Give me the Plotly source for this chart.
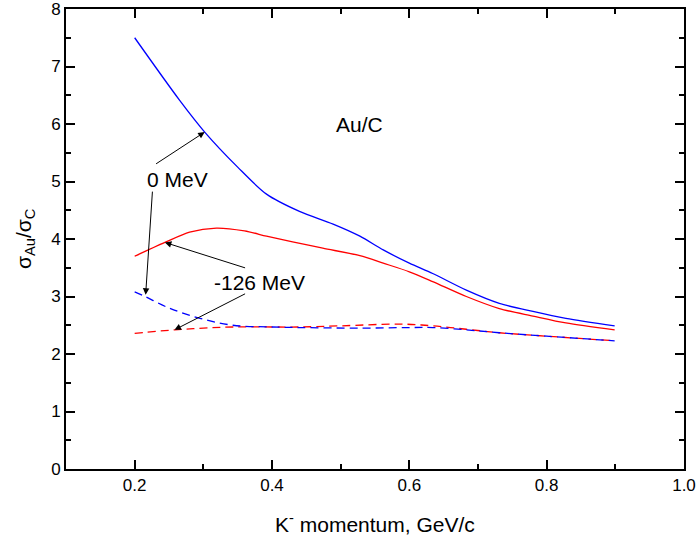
import plotly.graph_objects as go

# Blue solid (0 MeV, full)
x_blue = [0.20, 0.265, 0.302, 0.35, 0.392, 0.44, 0.489, 0.528, 0.562, 0.60, 0.634, 0.683, 0.731, 0.780, 0.828, 0.899]
y_blue = [7.50, 6.42, 5.86, 5.25, 4.78, 4.48, 4.26, 4.05, 3.81, 3.58, 3.40, 3.11, 2.88, 2.74, 2.62, 2.49]

# Red solid
x_red = [0.20, 0.244, 0.28, 0.319, 0.36, 0.392, 0.43, 0.474, 0.528, 0.562, 0.60, 0.634, 0.683, 0.731, 0.780, 0.828, 0.899]
y_red = [3.70, 3.94, 4.12, 4.19, 4.14, 4.05, 3.95, 3.84, 3.71, 3.58, 3.43, 3.26, 3.00, 2.79, 2.66, 2.54, 2.42]

# Blue dashed
x_blue_d = [0.20, 0.215, 0.25, 0.295, 0.343, 0.40, 0.44, 0.528, 0.60, 0.634, 0.683, 0.731, 0.80, 0.899]
y_blue_d = [3.08, 3.00, 2.80, 2.62, 2.50, 2.47, 2.46, 2.45, 2.46, 2.46, 2.42, 2.37, 2.31, 2.23]

# Red dashed
x_red_d = [0.20, 0.258, 0.30, 0.343, 0.40, 0.44, 0.50, 0.586, 0.634, 0.683, 0.731, 0.80, 0.899]
y_red_d = [2.36, 2.42, 2.45, 2.47, 2.47, 2.47, 2.49, 2.52, 2.49, 2.43, 2.37, 2.31, 2.23]

# tick labels
x_ticks = [0.2, 0.4, 0.6, 0.8, 1.0]
x_tick_labels = ["0.2", "0.4", "0.6", "0.8", "1.0"]

FONT = "Liberation Sans, Arial, sans-serif"
TXT = dict(size=21, color="black", family=FONT)

fig = go.Figure()
fig.add_trace(go.Scatter(x=x_blue, y=y_blue, mode="lines", line=dict(color="#0000FF", width=1.3, shape="spline", smoothing=0.8)))
fig.add_trace(go.Scatter(x=x_red, y=y_red, mode="lines", line=dict(color="#FF0000", width=1.3, shape="spline", smoothing=0.8)))
fig.add_trace(go.Scatter(x=x_red_d, y=y_red_d, mode="lines", line=dict(color="#FF0000", width=1.3, dash="8px,5px", shape="spline")))
fig.add_trace(go.Scatter(x=x_blue_d, y=y_blue_d, mode="lines", line=dict(color="#0000FF", width=1.3, dash="8px,5px", shape="spline")))

ann = []
ann.append(dict(x=0.528, y=6.0, text="Au/C", showarrow=False, font=TXT))
ann.append(dict(x=0.263, y=5.03, text="0 MeV", showarrow=False, font=TXT))
ann.append(dict(x=0.382, y=3.25, text="-126 MeV", showarrow=False, font=TXT))

arrows = [
    ((0.229, 5.29), (0.302, 5.86)),
    ((0.226, 4.85), (0.216, 3.03)),
    ((0.363, 3.49), (0.244, 3.94)),
    ((0.363, 3.06), (0.258, 2.42)),
]
for (sx, sy), (tx, ty) in arrows:
    ann.append(dict(x=tx, y=ty, ax=sx, ay=sy, xref="x", yref="y", axref="x", ayref="y",
                    text="", showarrow=True, arrowhead=2, arrowsize=1.3, arrowwidth=1, arrowcolor="black"))

# axis titles as annotations for precise placement
ann.append(dict(xref="paper", yref="paper", x=0.5, y=0, yanchor="middle", yshift=-54,
                text="K<sup>-</sup> momentum, GeV/c", showarrow=False, font=TXT))
ann.append(dict(xref="paper", yref="paper", x=0, y=0.5, xanchor="center", xshift=-41,
                text="σ<sub>Au</sub>/σ<sub>C</sub>", textangle=-90, showarrow=False, font=TXT))

fig.update_layout(template="simple_white")

fig.update_xaxes(
    range=[0.1, 1.0], tickmode="array", tickvals=x_ticks, ticktext=x_tick_labels,
    showline=True, linecolor="black", linewidth=2, mirror="allticks",
    ticks="inside", ticklen=9, tickwidth=2, tickcolor="black", layer="above traces",
    minor=dict(ticks="inside", dtick=0.1, tick0=0.1, ticklen=5, tickwidth=2, tickcolor="black", showgrid=False),
    showgrid=False, zeroline=False, automargin=False, ticklabeloverflow="allow",
    tickfont=dict(size=17, color="black", family=FONT),
)
fig.update_yaxes(
    range=[0, 8], tickmode="linear", tick0=0, dtick=1,
    showline=True, linecolor="black", linewidth=2, mirror="allticks",
    ticks="inside", ticklen=9, tickwidth=2, tickcolor="black", layer="above traces",
    minor=dict(ticks="inside", dtick=0.5, tick0=0, ticklen=5, tickwidth=2, tickcolor="black", showgrid=False),
    showgrid=False, zeroline=False, automargin=False, ticklabeloverflow="allow",
    tickfont=dict(size=17, color="black", family=FONT),
)

fig.update_layout(
    width=696, height=539,
    margin=dict(l=66, r=12, t=9, b=70),
    plot_bgcolor="white", paper_bgcolor="white",
    showlegend=False,
    annotations=ann,
    font=dict(family=FONT),
)

fig.write_html("out.html", config={"displayModeBar": False},
               post_script="document.body.style.margin='0';document.body.style.overflow='hidden';")
